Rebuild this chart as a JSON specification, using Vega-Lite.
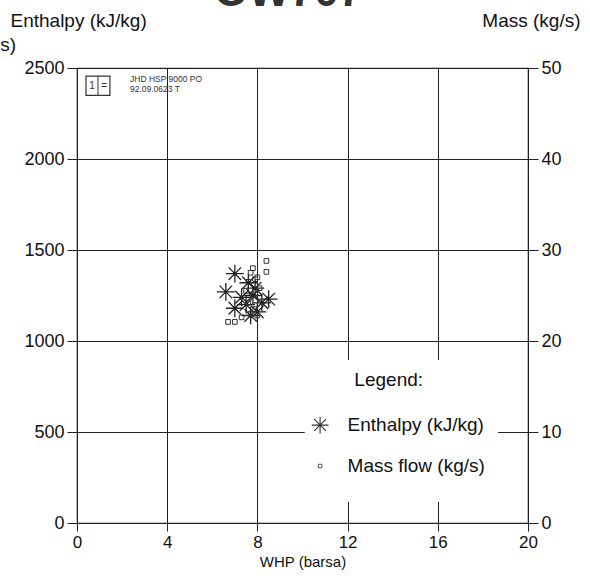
{
  "$schema": "https://vega.github.io/schema/vega-lite/v6.json",
  "width": 451,
  "height": 455,
  "autosize": "none",
  "padding": {"left": 77, "top": 68, "right": 62, "bottom": 57},
  "background": "white",
  "title": {"text": "OW707", "fontSize": 44, "font": "Liberation Sans", "fontWeight": "bold", "color": "#333", "anchor": "middle", "baseline": "alphabetic", "offset": -39, "dx": -14},
  "config": {
    "font": "Liberation Sans",
    "view": {"stroke": "#222", "strokeWidth": 1.2},
    "axis": {"labelFont": "Liberation Sans", "labelFontSize": 18, "labelColor": "#111", "titleFont": "Liberation Sans", "titleFontSize": 19, "titleFontWeight": "normal", "titleColor": "#111", "domainColor": "#222", "tickColor": "#222", "gridColor": "#222", "gridOpacity": 1, "gridWidth": 1, "format": "d"}
  },
  "datasets": {
    "enthalpy": [
      {"whp": 7.0, "h": 1370}, {"whp": 6.6, "h": 1270}, {"whp": 7.0, "h": 1180},
      {"whp": 7.6, "h": 1320}, {"whp": 7.8, "h": 1250}, {"whp": 7.5, "h": 1200},
      {"whp": 8.0, "h": 1160}, {"whp": 8.5, "h": 1230}, {"whp": 7.9, "h": 1290},
      {"whp": 7.7, "h": 1140}, {"whp": 8.2, "h": 1210}, {"whp": 7.3, "h": 1240}
    ],
    "mass": [
      {"whp": 8.4, "m": 28.8}, {"whp": 8.4, "m": 27.6}, {"whp": 6.7, "m": 22.1},
      {"whp": 7.0, "m": 22.1}, {"whp": 7.3, "m": 22.6}, {"whp": 7.6, "m": 26.5},
      {"whp": 7.7, "m": 27.5}, {"whp": 7.9, "m": 26.8}, {"whp": 7.8, "m": 25.0},
      {"whp": 7.6, "m": 24.2}, {"whp": 7.9, "m": 23.5}, {"whp": 8.0, "m": 22.8},
      {"whp": 7.7, "m": 23.0}, {"whp": 8.1, "m": 25.8}, {"whp": 7.5, "m": 25.5},
      {"whp": 7.8, "m": 28.0}, {"whp": 8.0, "m": 27.0}
    ],
    "legendbox": [{"x": 10.1, "x2": 18.67, "y": 115, "y2": 896}],
    "legendtext": [
      {"x": 12.3, "y": 786, "t": "Legend:"},
      {"x": 12.0, "y": 538, "t": "Enthalpy (kJ/kg)"},
      {"x": 12.0, "y": 313, "t": "Mass flow (kg/s)"}
    ],
    "legendstar": [{"x": 10.78, "y": 538}],
    "legendsq": [{"x": 10.78, "y": 313}],
    "logobox": [{"x": 0.4, "x2": 1.46, "y": 2350, "y2": 2455}],
    "logodiv": [{"x": 0.93, "y": 2350, "y2": 2455}],
    "logoglyph": [{"x": 0.67, "y": 2402, "t": "1"}, {"x": 1.2, "y": 2402, "t": "="}],
    "logotext": [
      {"x": 2.35, "y": 2437, "t": "JHD HSP 9000 PO"},
      {"x": 2.35, "y": 2383, "t": "92.09.0623 T"}
    ],
    "cut": [{"x": -3.4, "y": 2626, "t": "s)"}]
  },
  "layer": [
    {
      "data": {"name": "enthalpy"},
      "mark": {"type": "point", "shape": "M-1,0L1,0M0,-1L0,1M-0.7,-0.7L0.7,0.7M-0.7,0.7L0.7,-0.7", "filled": false, "stroke": "#222", "strokeWidth": 1.3, "size": 320, "opacity": 1},
      "encoding": {
        "x": {"field": "whp", "type": "quantitative", "scale": {"domain": [0, 20], "nice": false, "zero": false},
          "axis": {"title": "WHP (barsa)", "titleFontSize": 15, "labelFontSize": 17, "values": [0, 4, 8, 12, 16, 20], "grid": true, "tickSize": 8, "labelPadding": 3, "titlePadding": 4, "domain": false, "labelFlush": false}},
        "y": {"field": "h", "type": "quantitative", "scale": {"domain": [0, 2500], "nice": false},
          "axis": {"orient": "left", "title": "Enthalpy (kJ/kg)", "values": [0, 500, 1000, 1500, 2000, 2500], "grid": true, "tickSize": 10, "labelPadding": 3, "domain": false, "titleAngle": 0, "titleAlign": "left", "titleBaseline": "middle", "titleX": -67, "titleY": -48}}
      }
    },
    {
      "data": {"name": "mass"},
      "mark": {"type": "point", "shape": "square", "filled": false, "stroke": "#333", "strokeWidth": 1, "size": 22, "opacity": 1},
      "encoding": {
        "x": {"field": "whp", "type": "quantitative"},
        "y": {"field": "m", "type": "quantitative", "scale": {"domain": [0, 50], "nice": false},
          "axis": {"orient": "right", "title": "Mass (kg/s)", "values": [0, 10, 20, 30, 40, 50], "grid": false, "tickSize": 10, "labelPadding": 3, "domain": false, "titleAngle": 0, "titleAlign": "right", "titleBaseline": "middle", "titleX": 52, "titleY": -48}}
      }
    },
    {
      "data": {"name": "legendbox"},
      "mark": {"type": "rect", "fill": "white"},
      "encoding": {
        "x": {"field": "x", "type": "quantitative"}, "x2": {"field": "x2"},
        "y": {"field": "y", "type": "quantitative", "scale": {"domain": [0, 2500], "nice": false}, "axis": null}, "y2": {"field": "y2"}
      }
    },
    {
      "data": {"name": "legendtext"},
      "mark": {"type": "text", "align": "left", "baseline": "middle", "fontSize": 19, "font": "Liberation Sans", "color": "#111"},
      "encoding": {
        "x": {"field": "x", "type": "quantitative"},
        "y": {"field": "y", "type": "quantitative", "scale": {"domain": [0, 2500], "nice": false}, "axis": null},
        "text": {"field": "t"}
      }
    },
    {
      "data": {"name": "legendstar"},
      "mark": {"type": "point", "shape": "M-1,0L1,0M0,-1L0,1M-0.7,-0.7L0.7,0.7M-0.7,0.7L0.7,-0.7", "filled": false, "stroke": "#333", "strokeWidth": 1.1, "size": 280, "opacity": 1},
      "encoding": {
        "x": {"field": "x", "type": "quantitative"},
        "y": {"field": "y", "type": "quantitative", "scale": {"domain": [0, 2500], "nice": false}, "axis": null}
      }
    },
    {
      "data": {"name": "legendsq"},
      "mark": {"type": "point", "shape": "square", "filled": false, "stroke": "#555", "strokeWidth": 1, "size": 12, "opacity": 1},
      "encoding": {
        "x": {"field": "x", "type": "quantitative"},
        "y": {"field": "y", "type": "quantitative", "scale": {"domain": [0, 2500], "nice": false}, "axis": null}
      }
    },
    {
      "data": {"name": "logobox"},
      "mark": {"type": "rect", "fill": "white", "stroke": "#333", "strokeWidth": 1.2},
      "encoding": {
        "x": {"field": "x", "type": "quantitative"}, "x2": {"field": "x2"},
        "y": {"field": "y", "type": "quantitative", "scale": {"domain": [0, 2500], "nice": false}, "axis": null}, "y2": {"field": "y2"}
      }
    },
    {
      "data": {"name": "logodiv"},
      "mark": {"type": "rule", "stroke": "#333", "strokeWidth": 1},
      "encoding": {
        "x": {"field": "x", "type": "quantitative"},
        "y": {"field": "y", "type": "quantitative", "scale": {"domain": [0, 2500], "nice": false}, "axis": null}, "y2": {"field": "y2"}
      }
    },
    {
      "data": {"name": "logoglyph"},
      "mark": {"type": "text", "align": "center", "baseline": "middle", "fontSize": 10, "font": "Liberation Sans", "color": "#333"},
      "encoding": {
        "x": {"field": "x", "type": "quantitative"},
        "y": {"field": "y", "type": "quantitative", "scale": {"domain": [0, 2500], "nice": false}, "axis": null},
        "text": {"field": "t"}
      }
    },
    {
      "data": {"name": "logotext"},
      "mark": {"type": "text", "align": "left", "baseline": "middle", "fontSize": 8.5, "font": "Liberation Sans", "color": "#333"},
      "encoding": {
        "x": {"field": "x", "type": "quantitative"},
        "y": {"field": "y", "type": "quantitative", "scale": {"domain": [0, 2500], "nice": false}, "axis": null},
        "text": {"field": "t"}
      }
    },
    {
      "data": {"name": "cut"},
      "mark": {"type": "text", "align": "left", "baseline": "middle", "fontSize": 19, "font": "Liberation Sans", "color": "#111", "clip": false},
      "encoding": {
        "x": {"field": "x", "type": "quantitative"},
        "y": {"field": "y", "type": "quantitative", "scale": {"domain": [0, 2500], "nice": false}, "axis": null},
        "text": {"field": "t"}
      }
    }
  ],
  "resolve": {"scale": {"y": "independent"}}
}
